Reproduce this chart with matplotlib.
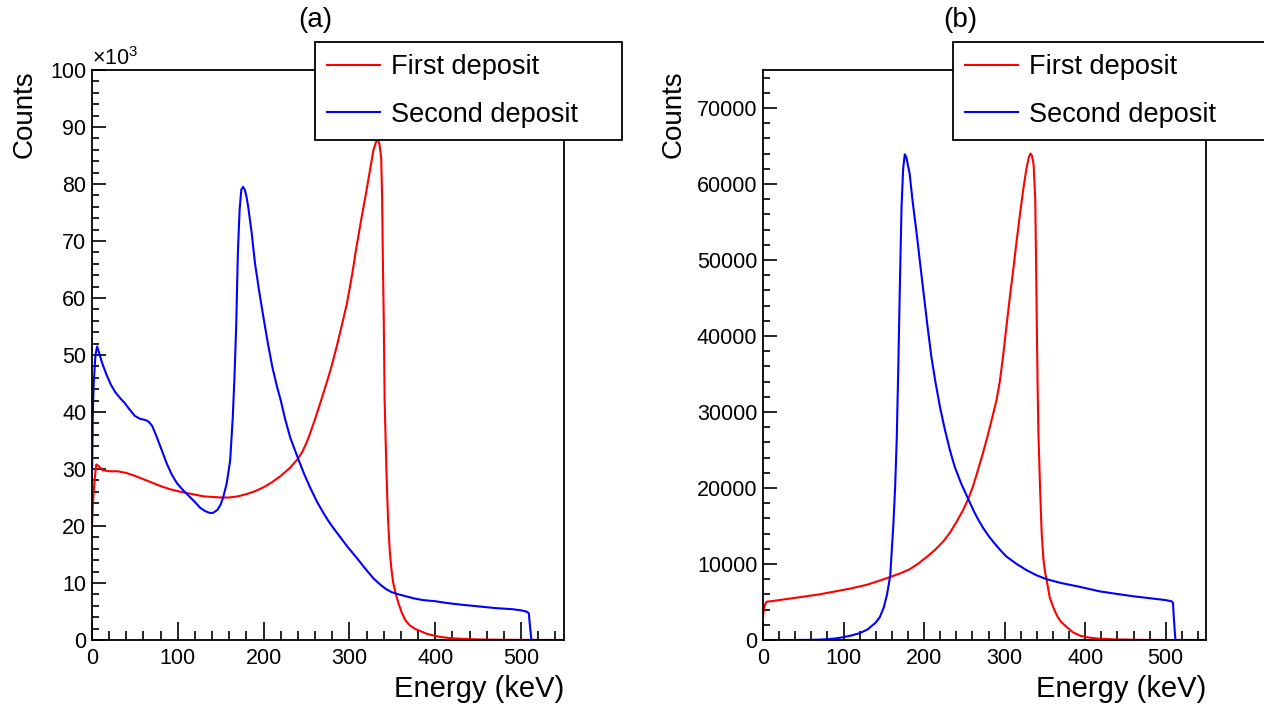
import numpy as np
import matplotlib.pyplot as plt
from matplotlib.ticker import MultipleLocator

plt.rcParams['font.family'] = ['Liberation Sans', 'DejaVu Sans']
plt.rcParams['mathtext.fontset'] = 'custom'
plt.rcParams['mathtext.rm'] = 'Liberation Sans'
plt.rcParams['mathtext.it'] = 'Liberation Sans'

# ---- (a) spectra, counts in units of 10^3 ----
a_first_e = [0, 1, 3, 5, 8, 12, 20, 30, 40, 50, 60, 70, 80, 90, 100, 110, 120, 130,
             140, 150, 160, 170, 180, 190, 200, 210, 220, 230, 240, 245, 250, 255,
             260, 265, 270, 275, 280, 285, 290, 297, 303, 308, 314, 320, 324, 328,
             331, 333, 335, 337, 338, 339, 340, 341, 343, 345, 347, 349, 351, 354,
             357, 361, 365, 370, 377, 382, 390, 400, 410, 420, 435, 450, 470, 500,
             550]
a_first_k = [20, 24, 28, 30.8, 30.5, 29.8, 29.6, 29.6, 29.3, 28.8, 28.2, 27.6, 27.0,
             26.5, 26.1, 25.8, 25.5, 25.2, 25.1, 25.0, 25.0, 25.2, 25.6, 26.1, 26.8,
             27.7, 28.8, 30.1, 31.8, 33.0, 34.6, 36.6, 38.8, 41.1, 43.5, 45.9, 48.5,
             51.4, 54.5, 59.0, 64.0, 68.8, 74.0, 79.0, 82.5, 86.0, 87.4, 87.8, 87.0,
             84.5, 78.0, 66.0, 56.0, 42.0, 30.0, 21.0, 15.5, 12.3, 10.0, 8.1, 6.5,
             4.8, 3.5, 2.6, 1.9, 1.6, 1.1, 0.7, 0.45, 0.3, 0.18, 0.1, 0.05, 0.02, 0]

a_second_e = [0, 1, 2, 4, 6, 8, 12, 17, 22, 27, 33, 38, 44, 50, 56, 62, 66, 70, 75,
              80, 87, 93, 99, 106, 114, 120, 126, 132, 137, 141, 146, 150, 153, 157,
              161, 164, 166, 168, 170, 172, 174, 176, 178, 180, 182, 186, 190, 195,
              200, 205, 210, 215, 220, 225, 231, 236, 240, 247, 254, 262, 270, 275,
              280, 289, 298, 308, 318, 328, 336, 343, 349, 355, 365, 375, 386, 400,
              413, 430, 450, 470, 490, 500, 506, 509, 510, 511, 512, 550]
a_second_k = [28, 40, 45, 50, 51.5, 50.5, 48.5, 46.5, 44.8, 43.5, 42.4, 41.6, 40.4,
              39.3, 38.8, 38.6, 38.3, 37.6, 35.8, 33.8, 31.0, 29.0, 27.5, 26.3, 25.1,
              24.2, 23.2, 22.6, 22.3, 22.3, 22.8, 23.8, 25.1, 27.5, 31.5, 39.0, 46.0,
              55.0, 68.0, 75.5, 79.0, 79.5, 79.0, 77.8, 76.0, 71.5, 66.0, 61.0, 56.4,
              52.0, 48.0, 44.8, 42.0, 38.8, 35.5, 33.5, 31.9, 29.2, 26.8, 24.3, 22.2,
              21.0, 19.9, 18.1, 16.3, 14.5, 12.6, 10.8, 9.7, 8.9, 8.4, 8.1, 7.7, 7.3,
              7.0, 6.8, 6.5, 6.2, 5.9, 5.6, 5.4, 5.2, 5.0, 4.7, 3.0, 1.5, 0, 0]

# ---- (b) spectra, raw counts ----
b_first_e = [0, 1, 3, 5, 10, 20, 30, 40, 50, 60, 70, 80, 90, 100, 110, 120, 130, 140,
             150, 158, 170, 182, 192, 203, 214, 224, 232, 240, 248, 255, 260, 265,
             272, 278, 284, 290, 294, 298, 302, 306, 311, 315, 319, 323, 327, 330,
             332, 334, 336, 338, 339, 340, 341, 342, 344, 346, 348, 350, 352, 356,
             360, 362, 366, 370, 377, 385, 393, 400, 410, 420, 440, 470, 500, 550]
b_first = [3000, 4000, 4800, 5050, 5100, 5250, 5400, 5550, 5700, 5850, 6000, 6200,
           6400, 6600, 6800, 7050, 7300, 7650, 8000, 8300, 8750, 9300, 10000, 10900,
           11900, 13000, 14100, 15500, 17000, 18600, 20000, 21700, 24200, 26500,
           29000, 31600, 34000, 37300, 41000, 44700, 49000, 52600, 56000, 59200,
           62000, 63500, 64000, 63700, 62500, 58000, 50000, 41000, 33000, 27000,
           20000, 14000, 10800, 9000, 8000, 5600, 4400, 3900, 3000, 2400, 1700, 1000,
           600, 400, 250, 150, 70, 20, 0, 0]

b_second_e = [0, 40, 60, 70, 80, 90, 100, 110, 120, 130, 140, 145, 150, 154, 158, 162,
              164, 166, 168, 170, 172, 174, 176, 178, 182, 186, 191, 195, 199, 204,
              209, 214, 220, 226, 232, 238, 246, 255, 262, 268, 273, 280, 286, 294,
              302, 315, 327, 340, 352, 370, 393, 418, 440, 460, 480, 500, 507, 509,
              510, 511, 512, 550]
b_second = [0, 0, 20, 50, 100, 200, 380, 600, 900, 1400, 2300, 3000, 4300, 6000, 8500,
            15500, 20000, 26300, 36000, 47000, 57000, 62000, 63900, 63500, 61400,
            57500, 53300, 49600, 46000, 41500, 37300, 34000, 30500, 27600, 25000,
            22800, 20600, 18500, 16900, 15700, 14800, 13700, 12900, 11900, 11000,
            10000, 9200, 8500, 8000, 7500, 7000, 6400, 6050, 5750, 5500, 5250, 5100,
            4900, 3000, 1500, 0, 0]

W, H = 1264, 713
fig = plt.figure(figsize=(W / 100, H / 100), dpi=100)
ax_a = fig.add_axes([92 / W, 73 / H, 472 / W, 570 / H])
ax_b = fig.add_axes([763 / W, 73 / H, 443 / W, 570 / H])


def style_axes(ax):
    ax.set_xlim(0, 550)
    ax.xaxis.set_major_locator(MultipleLocator(100))
    ax.xaxis.set_minor_locator(MultipleLocator(20))
    ax.tick_params(axis='both', which='both', direction='in', top=False, right=False,
                   labelsize=15.5, width=1.2)
    ax.tick_params(axis='x', which='major', length=13, pad=6)
    ax.tick_params(axis='x', which='minor', length=6.5)
    ax.tick_params(axis='y', which='major', length=10, pad=4)
    ax.tick_params(axis='y', which='minor', length=5)
    for s in ax.spines.values():
        s.set_linewidth(1.3)
    ax.set_xlabel('Energy (keV)', fontsize=21, loc='right')
    ax.xaxis.set_label_coords(1.0, -0.062)
    ax.set_ylabel('Counts', fontsize=20, loc='top')


def add_legend(ax, x0, width):
    leg = ax.legend(loc='upper left', mode='expand',
                    bbox_to_anchor=(x0 / W, 1 - 138 / H, width / W, 96 / H),
                    bbox_transform=fig.transFigure, borderaxespad=0,
                    fontsize=19.5, frameon=True, fancybox=False, framealpha=1,
                    edgecolor='black', handlelength=1.95, handletextpad=0.42,
                    borderpad=0.45, labelspacing=0.8)
    leg.get_frame().set_linewidth(1.3)
    leg.set_zorder(5)


# (a)
ax_a.plot(a_first_e, a_first_k, color='red', lw=1.5, label='First deposit')
ax_a.plot(a_second_e, a_second_k, color='blue', lw=1.5, label='Second deposit')
style_axes(ax_a)
ax_a.set_ylim(0, 100)
ax_a.yaxis.set_major_locator(MultipleLocator(10))
ax_a.yaxis.set_minor_locator(MultipleLocator(2))
ax_a.yaxis.set_label_coords(-0.115, 1.0)
ax_a.text(0.0, 1.0, '×10$^{3}$', transform=ax_a.transAxes, ha='left', va='bottom',
          fontsize=15.5)
add_legend(ax_a, 315, 307)
fig.text(315 / W, 1 - 20 / H, '(a)', fontsize=20, ha='center', va='center')

# (b)
ax_b.plot(b_first_e, b_first, color='red', lw=1.5, label='First deposit')
ax_b.plot(b_second_e, b_second, color='blue', lw=1.5, label='Second deposit')
style_axes(ax_b)
ax_b.set_ylim(0, 75000)
ax_b.yaxis.set_major_locator(MultipleLocator(10000))
ax_b.yaxis.set_minor_locator(MultipleLocator(2000))
ax_b.yaxis.set_label_coords(-0.173, 1.0)
add_legend(ax_b, 953, 320)
fig.text(960 / W, 1 - 20 / H, '(b)', fontsize=20, ha='center', va='center')

fig.savefig('out.png', dpi=100)
